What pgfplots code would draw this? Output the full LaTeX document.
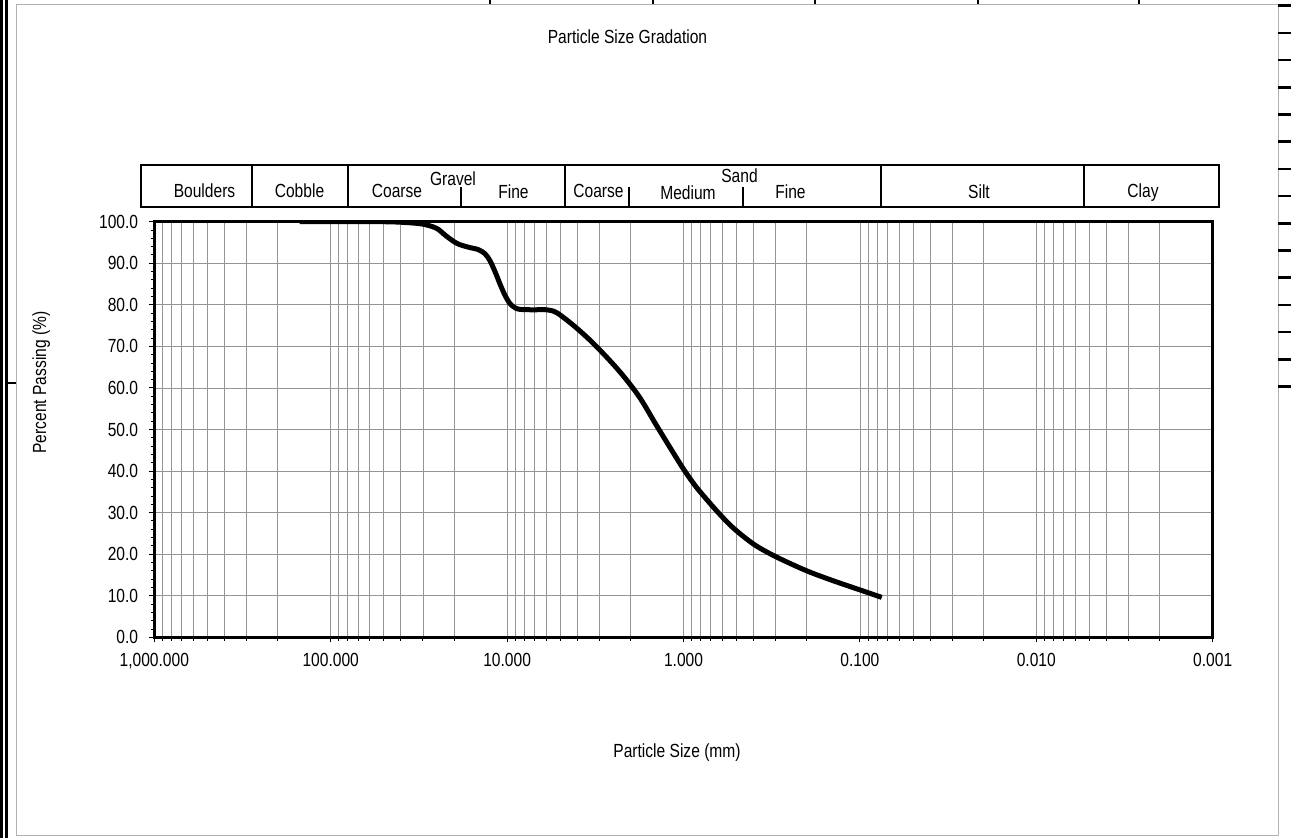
\documentclass[border=0pt]{standalone}
\usepackage{pgfplots}
\pgfplotsset{compat=1.18}
\usepackage{fontspec}
\setmainfont{Liberation Sans}[FakeStretch=0.82]
\newcommand{\lbl}{\fontsize{19bp}{22bp}\selectfont}
\begin{document}
\lbl
\begin{tikzpicture}
\useasboundingbox (0,0) rectangle (1291bp,838bp);
\begin{axis}[
  at={(154.3bp,200.7bp)}, anchor=south west,
  scale only axis, width=1058.4bp, height=415.6bp,
  xmode=log, x dir=reverse, xmin=0.001, xmax=1000, ymin=0, ymax=100,
  xtick={0.001,0.01,0.1,1,10,100,1000},
  xticklabels={0.001,0.010,0.100,1.000,10.000,100.000,{1,000.000}},
  minor xtick={0.002,0.003,0.004,0.005,0.006,0.007,0.008,0.009,
               0.02,0.03,0.04,0.05,0.06,0.07,0.08,0.09,
               0.2,0.3,0.4,0.5,0.6,0.7,0.8,0.9,
               2,3,4,5,6,7,8,9,
               20,30,40,50,60,70,80,90,
               200,300,400,500,600,700,800,900},
  ytick={0,10,20,30,40,50,60,70,80,90,100},
  yticklabels={0.0,10.0,20.0,30.0,40.0,50.0,60.0,70.0,80.0,90.0,100.0},
  minor ytick={2,4,6,8,12,14,16,18,22,24,26,28,32,34,36,38,42,44,46,48,52,54,56,58,62,64,66,68,72,74,76,78,82,84,86,88,92,94,96,98},
  xmajorgrids, xminorgrids, ymajorgrids,
  major grid style={black!42, line width=0.8bp},
  minor grid style={black!42, line width=0.8bp},
  axis line style={line width=2.6bp},
  tick style={black, line width=0.9bp},
  tick align=outside, major tick length=5bp, minor tick length=3.5bp,
  xtick pos=bottom, ytick pos=left,
  /pgf/number format/assume math mode=true,
  ticklabel style={font=\lbl, inner sep=0pt},
  xticklabel style={anchor=base, yshift=-24.5bp},
  yticklabel style={anchor=east, xshift=-11bp},
]
\addplot[black, line width=5bp, smooth, tension=0.5] coordinates {
(150,100) (52.5,100) (37.5,99.8) (29.9,99.4) (25.1,98.4) (22.2,96.6)
(19.3,94.8) (16.7,93.9) (14.6,93.3) (13.35,92.3) (12.5,90.6) (11.71,88.0)
(10.97,85.0) (10.28,82.3) (9.64,80.3) (9.02,79.3) (8.45,78.9) (7.13,78.8)
(5.96,78.8) (5.23,78.1) (4.22,75.1) (3.39,71.5) (2.725,67.4) (2.194,62.9)
(1.765,57.6) (1.419,50.9) (1.143,44.4) (0.9936,40.3) (0.841,36.0) (0.648,30.4)
(0.522,26.3) (0.397,22.3) (0.2965,19.3) (0.2004,16.0) (0.1416,13.6)
(0.0999,11.4) (0.0752,9.6)
};
\end{axis}
\begin{scope}[x=1bp, y=-1bp, yshift=838bp]
  % sheet frame artefacts
  \draw[black!30, line width=1bp] (16.7,4.3) rectangle (1278,836);
  \fill[black] (0,0) rectangle (3.3,838);
  \fill[black] (5,0) rectangle (7.7,838);
  \foreach \xx in {490,653,815,978,1139} \draw[black, line width=2bp] (\xx,0) -- (\xx,4.3);
  \foreach \yy in {5.7,32.9,60.1,87.3,114.5,141.7,168.9,196.1,223.3,250.5,277.7,304.9,332.1,359.3,386.5}
     \draw[black, line width=2.6bp] (1278,\yy) -- (1291,\yy);
  \draw[black, line width=2bp] (7.7,383) -- (15.5,383);
  % title and labels
  \node[anchor=base, font=\lbl, inner sep=0pt] at (627.5,43.5) {Particle Size Gradation};
  \node[anchor=base, font=\lbl, inner sep=0pt] at (677,758) {Particle Size (mm)};
  \node[anchor=base, rotate=90, font=\lbl, inner sep=0pt] at (46,382.5) {Percent Passing (\%)};
  % classification band
  \draw[black, line width=1.8bp] (140.7,165) rectangle (1219,206.7);
  \foreach \xx in {252,348,565,881,1084} \draw[black, line width=1.8bp] (\xx,165) -- (\xx,206.7);
  \foreach \xx in {461,629,743} \draw[black, line width=1.8bp] (\xx,187) -- (\xx,206.7);
  \begin{scope}[every node/.style={anchor=base, font=\lbl, inner sep=0pt}]
  \node at (204.5,197.5) {Boulders};
  \node at (299.5,197.5) {Cobble};
  \node at (397,197.5) {Coarse};
  \node at (453,186) {Gravel};
  \node at (513.5,198.5) {Fine};
  \node at (598.5,197.3) {Coarse};
  \node at (688,199.3) {Medium};
  \node at (739.5,182.7) {Sand};
  \node at (790.5,198.5) {Fine};
  \node at (979,198.5) {Silt};
  \node at (1143,197.5) {Clay};
  \end{scope}
\end{scope}
\end{tikzpicture}
\end{document}
